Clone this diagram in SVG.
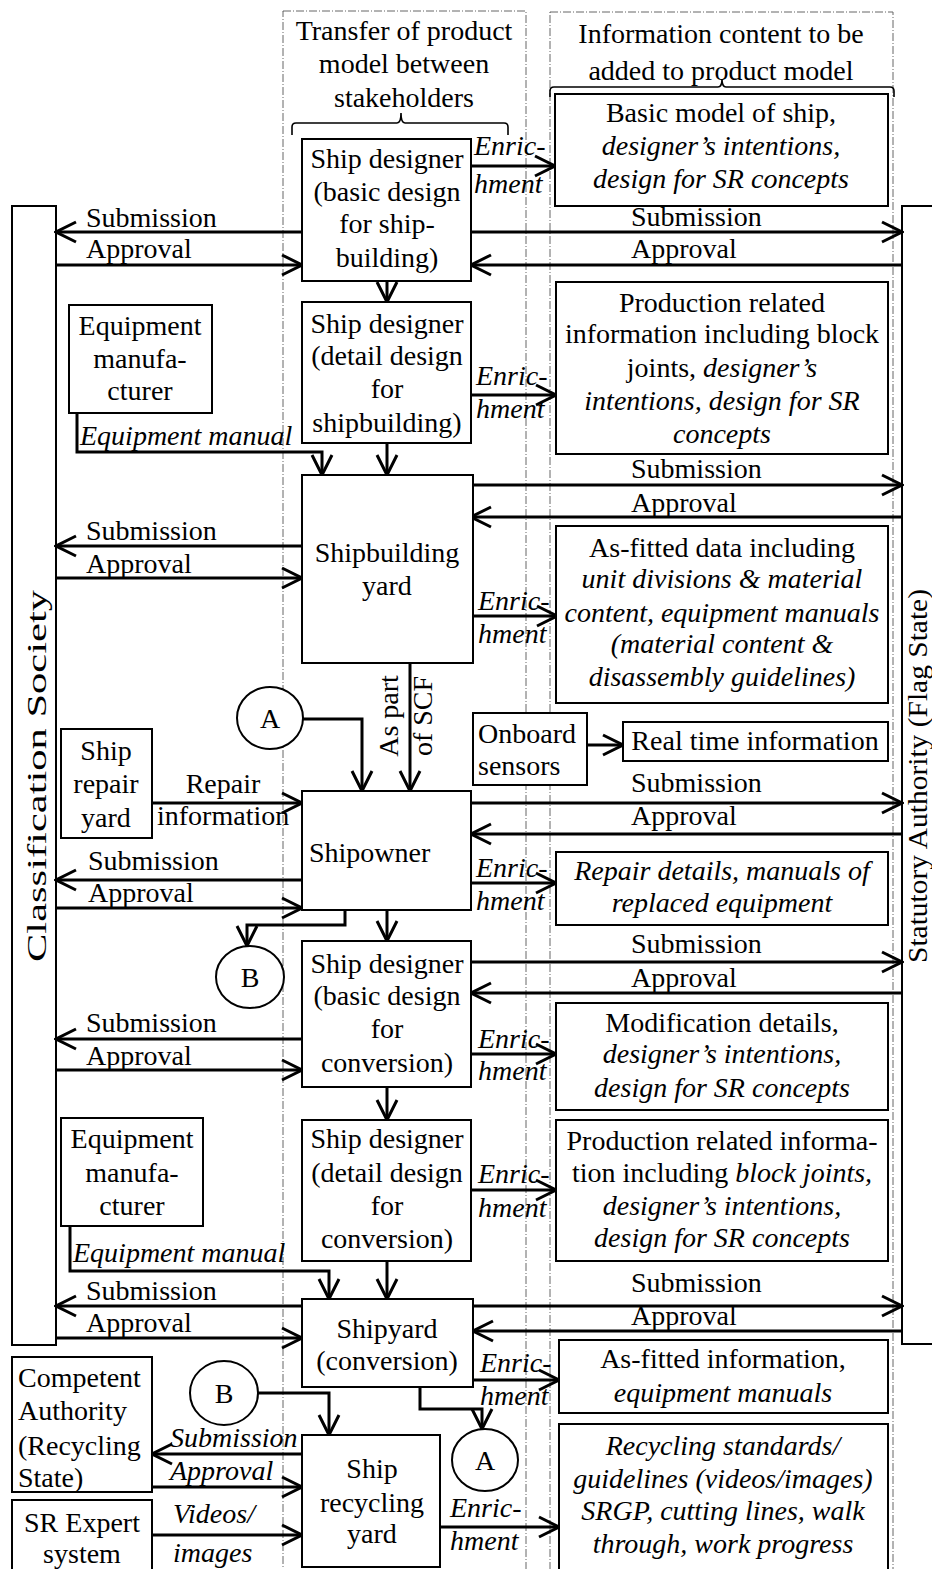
<svg xmlns="http://www.w3.org/2000/svg" width="932" height="1569" viewBox="0 0 932 1569">
  <defs>
    <style>
      .t { font-family: "Liberation Serif", "Times New Roman", serif; font-size: 28px; fill: #000; }
      .i { font-style: italic; }
      .c { text-anchor: middle; }
      .box { fill: #fff; stroke: #000; stroke-width: 2; }
      .ln { fill: none; stroke: #000; stroke-width: 3; }
      .col { fill: none; stroke: #666; stroke-width: 1; stroke-dasharray: 8 2 1 2; }
      .brace { fill: none; stroke: #000; stroke-width: 1.6; }
    </style>
    <marker id="ah" viewBox="-24 -13 26 26" refX="0" refY="0" markerWidth="26" markerHeight="26" markerUnits="userSpaceOnUse" orient="auto">
      <path d="M-20,-10 L0,0 L-20,10" fill="none" stroke="#000" stroke-width="3"/>
    </marker>
  </defs>

  <rect width="932" height="1569" fill="#fff"/>

  <!-- column frames -->
  <g id="columns">
    <rect class="col" x="283" y="11" width="243" height="1580"/>
    <rect class="col" x="550" y="12" width="343" height="1580"/>
    <text class="t c" x="404" y="40">Transfer of product</text>
    <text class="t c" x="404" y="73">model between</text>
    <text class="t c" x="404" y="107">stakeholders</text>
    <path class="brace" d="M292,135 V127 Q292,123 296,123 H397 Q401,123 401,113 Q401,123 405,123 H504 Q508,123 508,127 V135"/>
    <text class="t c" x="721" y="43">Information content to be</text>
    <text class="t c" x="721" y="80">added to product model</text>
    <path class="brace" d="M550,97 V91 Q550,87 554,87 H718 Q722,87 722,79 Q722,87 726,87 H890 Q894,87 894,91 V97"/>
  </g>

  <!-- authority bars -->
  <g id="classification-society">
    <rect class="box" x="12" y="206" width="44" height="1139"/>
    <text class="t c" transform="translate(46,776) rotate(-90)" textLength="372" lengthAdjust="spacingAndGlyphs">Classification Society</text>
  </g>
  <g id="statutory-authority">
    <rect class="box" x="902" y="206" width="60" height="1138"/>
    <text class="t c" transform="translate(927,776) rotate(-90)" textLength="374" lengthAdjust="spacingAndGlyphs">Statutory Authority (Flag State)</text>
  </g>

  <!-- connectors -->
  <g id="connectors">
    <!-- class society exchanges -->
    <line class="ln" x1="302" y1="232" x2="56" y2="232" marker-end="url(#ah)"/>
    <line class="ln" x1="56" y1="265" x2="302" y2="265" marker-end="url(#ah)"/>
    <line class="ln" x1="302" y1="546" x2="56" y2="546" marker-end="url(#ah)"/>
    <line class="ln" x1="56" y1="578" x2="302" y2="578" marker-end="url(#ah)"/>
    <line class="ln" x1="302" y1="880" x2="56" y2="880" marker-end="url(#ah)"/>
    <line class="ln" x1="56" y1="908" x2="302" y2="908" marker-end="url(#ah)"/>
    <line class="ln" x1="302" y1="1039" x2="56" y2="1039" marker-end="url(#ah)"/>
    <line class="ln" x1="56" y1="1070" x2="302" y2="1070" marker-end="url(#ah)"/>
    <line class="ln" x1="302" y1="1306" x2="56" y2="1306" marker-end="url(#ah)"/>
    <line class="ln" x1="56" y1="1338" x2="302" y2="1338" marker-end="url(#ah)"/>

    <!-- statutory authority exchanges -->
    <line class="ln" x1="471" y1="232" x2="902" y2="232" marker-end="url(#ah)"/>
    <line class="ln" x1="902" y1="265" x2="471" y2="265" marker-end="url(#ah)"/>
    <line class="ln" x1="471" y1="485" x2="902" y2="485" marker-end="url(#ah)"/>
    <line class="ln" x1="902" y1="517" x2="471" y2="517" marker-end="url(#ah)"/>
    <line class="ln" x1="471" y1="803" x2="902" y2="803" marker-end="url(#ah)"/>
    <line class="ln" x1="902" y1="834" x2="471" y2="834" marker-end="url(#ah)"/>
    <line class="ln" x1="471" y1="962" x2="902" y2="962" marker-end="url(#ah)"/>
    <line class="ln" x1="902" y1="993" x2="471" y2="993" marker-end="url(#ah)"/>
    <line class="ln" x1="473" y1="1306" x2="902" y2="1306" marker-end="url(#ah)"/>
    <line class="ln" x1="902" y1="1331" x2="473" y2="1331" marker-end="url(#ah)"/>

    <!-- enrichment -->
    <line class="ln" x1="471" y1="166" x2="555" y2="166" marker-end="url(#ah)"/>
    <line class="ln" x1="471" y1="395" x2="556" y2="395" marker-end="url(#ah)"/>
    <line class="ln" x1="473" y1="616" x2="557" y2="616" marker-end="url(#ah)"/>
    <line class="ln" x1="471" y1="883" x2="556" y2="883" marker-end="url(#ah)"/>
    <line class="ln" x1="471" y1="1054" x2="556" y2="1054" marker-end="url(#ah)"/>
    <line class="ln" x1="471" y1="1190" x2="556" y2="1190" marker-end="url(#ah)"/>
    <line class="ln" x1="473" y1="1380" x2="559" y2="1380" marker-end="url(#ah)"/>
    <line class="ln" x1="440" y1="1527" x2="559" y2="1527" marker-end="url(#ah)"/>
    <line class="ln" x1="587" y1="745" x2="623" y2="745" marker-end="url(#ah)"/>

    <!-- flow down the stakeholder column -->
    <line class="ln" x1="387" y1="281" x2="387" y2="302" marker-end="url(#ah)"/>
    <line class="ln" x1="387" y1="443" x2="387" y2="475" marker-end="url(#ah)"/>
    <path class="ln" d="M77,413 V452 H322 V475" marker-end="url(#ah)"/>
    <line class="ln" x1="410" y1="663" x2="410" y2="791" marker-end="url(#ah)"/>
    <path class="ln" d="M303,719 H362 V791" marker-end="url(#ah)"/>
    <line class="ln" x1="152" y1="803" x2="302" y2="803" marker-end="url(#ah)"/>
    <line class="ln" x1="387" y1="910" x2="387" y2="941" marker-end="url(#ah)"/>
    <path class="ln" d="M345,910 V925 H247 V946" marker-end="url(#ah)"/>
    <line class="ln" x1="387" y1="1087" x2="387" y2="1120" marker-end="url(#ah)"/>
    <path class="ln" d="M70,1226 V1271 H329 V1299" marker-end="url(#ah)"/>
    <line class="ln" x1="387" y1="1261" x2="387" y2="1299" marker-end="url(#ah)"/>
    <path class="ln" d="M420,1387 V1409 H482 V1429" marker-end="url(#ah)"/>
    <path class="ln" d="M258,1393 H329 V1435" marker-end="url(#ah)"/>

    <!-- recycling yard exchanges -->
    <line class="ln" x1="302" y1="1454" x2="152" y2="1454" marker-end="url(#ah)"/>
    <line class="ln" x1="152" y1="1487" x2="302" y2="1487" marker-end="url(#ah)"/>
    <line class="ln" x1="152" y1="1535" x2="302" y2="1535" marker-end="url(#ah)"/>

    <!-- connector labels -->
    <text class="t" x="86" y="227">Submission</text>
    <text class="t" x="86" y="258">Approval</text>
    <text class="t" x="86" y="540">Submission</text>
    <text class="t" x="86" y="573">Approval</text>
    <text class="t" x="88" y="870">Submission</text>
    <text class="t" x="88" y="902">Approval</text>
    <text class="t" x="86" y="1032">Submission</text>
    <text class="t" x="86" y="1065">Approval</text>
    <text class="t" x="86" y="1300">Submission</text>
    <text class="t" x="86" y="1332">Approval</text>

    <text class="t" x="631" y="226">Submission</text>
    <text class="t" x="631" y="258">Approval</text>
    <text class="t" x="631" y="478">Submission</text>
    <text class="t" x="631" y="512">Approval</text>
    <text class="t" x="631" y="792">Submission</text>
    <text class="t" x="631" y="825">Approval</text>
    <text class="t" x="631" y="953">Submission</text>
    <text class="t" x="631" y="987">Approval</text>
    <text class="t" x="631" y="1292">Submission</text>
    <text class="t" x="631" y="1325">Approval</text>

    <text class="t i" x="474" y="155">Enric-</text>
    <text class="t i" x="474" y="193">hment</text>
    <text class="t i" x="476" y="385">Enric-</text>
    <text class="t i" x="476" y="418">hment</text>
    <text class="t i" x="478" y="610">Enric-</text>
    <text class="t i" x="478" y="643">hment</text>
    <text class="t i" x="476" y="877">Enric-</text>
    <text class="t i" x="476" y="910">hment</text>
    <text class="t i" x="478" y="1048">Enric-</text>
    <text class="t i" x="478" y="1080">hment</text>
    <text class="t i" x="478" y="1183">Enric-</text>
    <text class="t i" x="478" y="1217">hment</text>
    <text class="t i" x="480" y="1372">Enric-</text>
    <text class="t i" x="480" y="1405">hment</text>
    <text class="t i" x="450" y="1517">Enric-</text>
    <text class="t i" x="450" y="1550">hment</text>

    <text class="t i" x="80" y="445">Equipment manual</text>
    <text class="t i" x="73" y="1262">Equipment manual</text>
    <text class="t c" x="223" y="793">Repair</text>
    <text class="t" x="157" y="825">information</text>
    <text class="t" transform="translate(398,716) rotate(-90)" text-anchor="middle">As part</text>
    <text class="t" transform="translate(432,716) rotate(-90)" text-anchor="middle">of SCF</text>
    <text class="t i" x="170" y="1447">Submission</text>
    <text class="t i" x="170" y="1480">Approval</text>
    <text class="t i" x="173" y="1523">Videos/</text>
    <text class="t i" x="173" y="1562">images</text>
  </g>

  <!-- stakeholders -->
  <g id="ship-designer-basic-shipbuilding">
    <rect class="box" x="302" y="139" width="169" height="142"/>
    <text class="t c" x="387" y="168">Ship designer</text>
    <text class="t c" x="387" y="201">(basic design</text>
    <text class="t c" x="387" y="233">for ship-</text>
    <text class="t c" x="387" y="267">building)</text>
  </g>
  <g id="ship-designer-detail-shipbuilding">
    <rect class="box" x="302" y="302" width="169" height="141"/>
    <text class="t c" x="387" y="333">Ship designer</text>
    <text class="t c" x="387" y="365">(detail design</text>
    <text class="t c" x="387" y="398">for</text>
    <text class="t c" x="387" y="432">shipbuilding)</text>
  </g>
  <g id="shipbuilding-yard">
    <rect class="box" x="302" y="475" width="171" height="188"/>
    <text class="t c" x="387" y="562">Shipbuilding</text>
    <text class="t c" x="387" y="595">yard</text>
  </g>
  <g id="shipowner">
    <rect class="box" x="302" y="791" width="169" height="119"/>
    <text class="t" x="309" y="862">Shipowner</text>
  </g>
  <g id="ship-designer-basic-conversion">
    <rect class="box" x="302" y="941" width="169" height="146"/>
    <text class="t c" x="387" y="973">Ship designer</text>
    <text class="t c" x="387" y="1005">(basic design</text>
    <text class="t c" x="387" y="1038">for</text>
    <text class="t c" x="387" y="1072">conversion)</text>
  </g>
  <g id="ship-designer-detail-conversion">
    <rect class="box" x="302" y="1120" width="169" height="141"/>
    <text class="t c" x="387" y="1148">Ship designer</text>
    <text class="t c" x="387" y="1182">(detail design</text>
    <text class="t c" x="387" y="1215">for</text>
    <text class="t c" x="387" y="1248">conversion)</text>
  </g>
  <g id="shipyard-conversion">
    <rect class="box" x="302" y="1299" width="171" height="88"/>
    <text class="t c" x="387" y="1338">Shipyard</text>
    <text class="t c" x="387" y="1370">(conversion)</text>
  </g>
  <g id="ship-recycling-yard">
    <rect class="box" x="302" y="1435" width="138" height="132"/>
    <text class="t c" x="372" y="1478">Ship</text>
    <text class="t c" x="372" y="1512">recycling</text>
    <text class="t c" x="372" y="1543">yard</text>
  </g>

  <!-- outside parties -->
  <g id="equipment-manufacturer-1">
    <rect class="box" x="69" y="305" width="143" height="108"/>
    <text class="t c" x="140" y="335">Equipment</text>
    <text class="t c" x="140" y="368">manufa-</text>
    <text class="t c" x="140" y="400">cturer</text>
  </g>
  <g id="ship-repair-yard">
    <rect class="box" x="61" y="729" width="91" height="109"/>
    <text class="t c" x="106" y="760">Ship</text>
    <text class="t c" x="106" y="793">repair</text>
    <text class="t c" x="106" y="827">yard</text>
  </g>
  <g id="equipment-manufacturer-2">
    <rect class="box" x="61" y="1118" width="142" height="108"/>
    <text class="t c" x="132" y="1148">Equipment</text>
    <text class="t c" x="132" y="1182">manufa-</text>
    <text class="t c" x="132" y="1215">cturer</text>
  </g>
  <g id="competent-authority">
    <rect class="box" x="12" y="1357" width="140" height="135"/>
    <text class="t" x="18" y="1387">Competent</text>
    <text class="t" x="18" y="1420">Authority</text>
    <text class="t" x="18" y="1455">(Recycling</text>
    <text class="t" x="18" y="1487">State)</text>
  </g>
  <g id="sr-expert-system">
    <rect class="box" x="12" y="1500" width="140" height="80"/>
    <text class="t c" x="82" y="1532">SR Expert</text>
    <text class="t c" x="82" y="1563">system</text>
  </g>
  <g id="onboard-sensors">
    <rect class="box" x="473" y="713" width="114" height="72"/>
    <text class="t" x="478" y="743">Onboard</text>
    <text class="t" x="478" y="775">sensors</text>
  </g>

  <!-- off-page connectors -->
  <g id="connector-a-top">
    <ellipse class="box" cx="270" cy="718" rx="33" ry="31"/>
    <text class="t c" x="270" y="728">A</text>
  </g>
  <g id="connector-b-top">
    <ellipse class="box" cx="250" cy="977" rx="34" ry="31"/>
    <text class="t c" x="250" y="987">B</text>
  </g>
  <g id="connector-b-bottom">
    <ellipse class="box" cx="224" cy="1393" rx="34" ry="32"/>
    <text class="t c" x="224" y="1403">B</text>
  </g>
  <g id="connector-a-bottom">
    <ellipse class="box" cx="485" cy="1460" rx="33" ry="31"/>
    <text class="t c" x="485" y="1470">A</text>
  </g>

  <!-- information content -->
  <g id="info-basic-model">
    <rect class="box" x="555" y="94" width="333" height="112"/>
    <text class="t c" x="721" y="122">Basic model of ship,</text>
    <text class="t c i" x="721" y="155">designer’s intentions,</text>
    <text class="t c i" x="721" y="188">design for SR concepts</text>
  </g>
  <g id="info-production-shipbuilding">
    <rect class="box" x="556" y="282" width="332" height="172"/>
    <text class="t c" x="722" y="312">Production related</text>
    <text class="t c" x="722" y="343">information including block</text>
    <text class="t c" x="722" y="377">joints, <tspan class="i">designer’s</tspan></text>
    <text class="t c i" x="722" y="410">intentions, design for SR</text>
    <text class="t c i" x="722" y="443">concepts</text>
  </g>
  <g id="info-as-fitted-data">
    <rect class="box" x="556" y="526" width="332" height="177"/>
    <text class="t c" x="722" y="557">As-fitted data including</text>
    <text class="t c i" x="722" y="588">unit divisions &amp; material</text>
    <text class="t c i" x="722" y="622">content, equipment manuals</text>
    <text class="t c i" x="722" y="653">(material content &amp;</text>
    <text class="t c i" x="722" y="686">disassembly guidelines)</text>
  </g>
  <g id="info-real-time">
    <rect class="box" x="623" y="722" width="265" height="39"/>
    <text class="t c" x="755" y="750">Real time information</text>
  </g>
  <g id="info-repair-details">
    <rect class="box" x="556" y="852" width="332" height="73"/>
    <text class="t c i" x="722" y="880">Repair details, manuals of</text>
    <text class="t c i" x="722" y="912">replaced equipment</text>
  </g>
  <g id="info-modification">
    <rect class="box" x="556" y="1003" width="332" height="107"/>
    <text class="t c" x="722" y="1032">Modification details,</text>
    <text class="t c i" x="722" y="1063">designer’s intentions,</text>
    <text class="t c i" x="722" y="1097">design for SR concepts</text>
  </g>
  <g id="info-production-conversion">
    <rect class="box" x="556" y="1120" width="332" height="141"/>
    <text class="t c" x="722" y="1150">Production related informa-</text>
    <text class="t c" x="722" y="1182">tion including <tspan class="i">block joints,</tspan></text>
    <text class="t c i" x="722" y="1215">designer’s intentions,</text>
    <text class="t c i" x="722" y="1247">design for SR concepts</text>
  </g>
  <g id="info-as-fitted-information">
    <rect class="box" x="559" y="1340" width="329" height="73"/>
    <text class="t c" x="723" y="1368">As-fitted information,</text>
    <text class="t c i" x="723" y="1402">equipment manuals</text>
  </g>
  <g id="info-recycling">
    <rect class="box" x="559" y="1424" width="329" height="160"/>
    <text class="t c i" x="723" y="1455">Recycling standards/</text>
    <text class="t c i" x="723" y="1488">guidelines (videos/images)</text>
    <text class="t c i" x="723" y="1520">SRGP, cutting lines, walk</text>
    <text class="t c i" x="723" y="1553">through, work progress</text>
  </g>
</svg>
